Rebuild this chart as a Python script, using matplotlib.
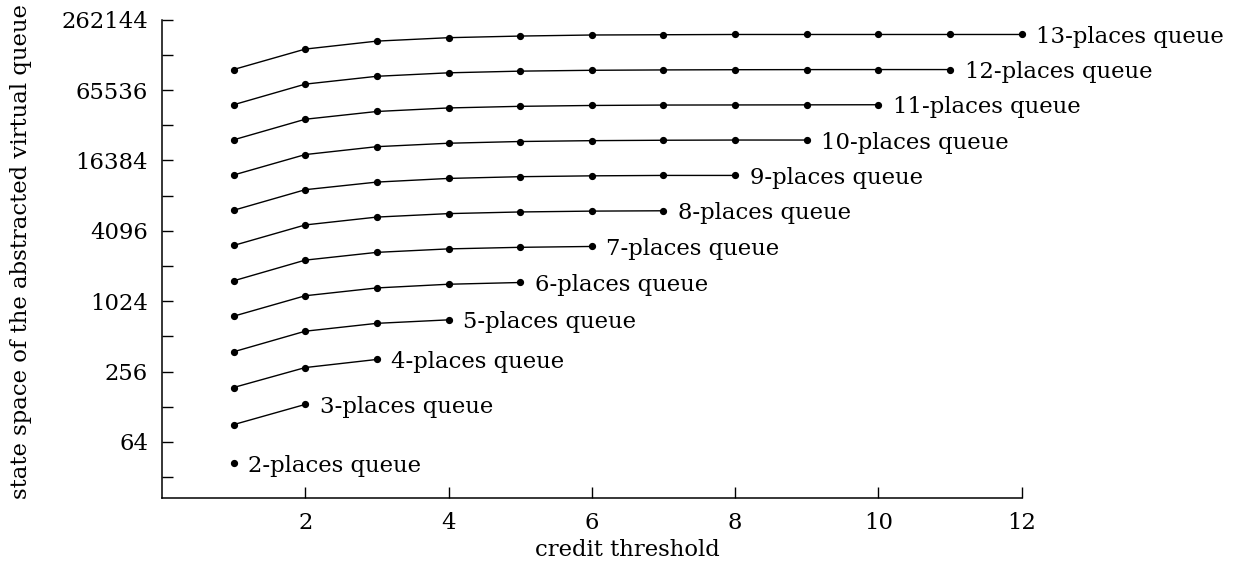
import matplotlib
matplotlib.use('Agg')
import matplotlib.pyplot as plt

plt.rcParams['font.family'] = 'serif'
plt.rcParams['font.serif'] = ['DejaVu Serif']

# state space size per credit threshold (1 .. n-1) for each queue size n
q2 = [42]
q3 = [90, 134]
q4 = [187, 277, 325]
q5 = [378, 567, 662, 709]
q6 = [762, 1140, 1330, 1430, 1480]
q7 = [1530, 2300, 2680, 2870, 2960, 3010]
q8 = [3070, 4600, 5370, 5750, 5940, 6040, 6080]
q9 = [6140, 9210, 10700, 11500, 11900, 12100, 12200, 12200]
q10 = [12300, 18400, 21500, 23000, 23800, 24200, 24400, 24500, 24500]
q11 = [24600, 36900, 43000, 46100, 47600, 48400, 48800, 48900, 49000, 49100]
q12 = [49100, 73700, 86000, 92100, 95200, 96800, 97500, 97900, 98100, 98200, 98200]
q13 = [98300, 147000, 172000, 184000, 190000, 194000, 195000, 196000, 196000,
       196000, 196000, 196000]

queue_sizes = [2, 3, 4, 5, 6, 7, 8, 9, 10, 11, 12, 13]
series = [q2, q3, q4, q5, q6, q7, q8, q9, q10, q11, q12, q13]

ytick_vals = [2**k for k in range(5, 19)]
ytick_labels = [str(v) if k % 2 == 0 else '' for k, v in zip(range(5, 19), ytick_vals)]
xtick_vals = [2, 4, 6, 8, 10, 12]

fs = 16.4

fig = plt.figure(figsize=(12.41, 5.65), dpi=100)
ax = fig.add_axes([0.1305, 0.1177, 0.881 - 0.1305, 0.9651 - 0.1177])

for n, vals in zip(queue_sizes, series):
    xs = list(range(1, len(vals) + 1))
    ax.plot(xs, vals, color='black', lw=1.0, marker='o', ms=4.2)
    ax.annotate('%d-places queue' % n, (xs[-1], vals[-1]), xytext=(10.5, 0),
                textcoords='offset points', ha='left', va='center_baseline',
                fontsize=fs)

ax.set_yscale('log', base=2)
ax.set_ylim(21, 262144)
ax.set_xlim(0, 13)
ax.set_yticks(ytick_vals)
ax.set_yticklabels(ytick_labels)
ax.minorticks_off()
ax.set_xticks(xtick_vals)
ax.set_xticklabels([str(v) for v in xtick_vals])

for s in ['top', 'right']:
    ax.spines[s].set_visible(False)
ax.spines['bottom'].set_bounds(0, 12)
ax.spines['left'].set_linewidth(1.1)
ax.spines['bottom'].set_linewidth(1.1)

ax.tick_params(axis='both', direction='in', length=8, width=1.0, labelsize=fs)
ax.tick_params(axis='y', pad=10)
ax.tick_params(axis='x', pad=9.5)

ax.set_xlabel('credit threshold', fontsize=fs)
ax.set_ylabel('state space of the abstracted virtual queue', fontsize=fs)
ax.xaxis.set_label_coords(0.5, -0.085)
ax.yaxis.set_label_coords(-0.1396, 0.516)

fig.savefig('out.png', dpi=100)
